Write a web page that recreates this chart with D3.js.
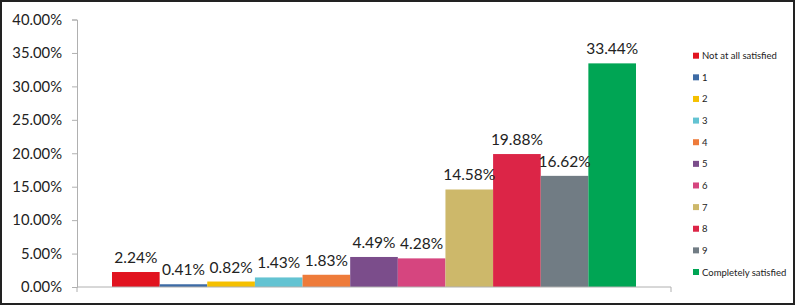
<!DOCTYPE html>
<html>
<head>
<meta charset="utf-8">
<script src="https://cdn.jsdelivr.net/npm/d3@7"></script>
<style>
  html, body { margin: 0; padding: 0; background: #fff; }
  svg { display: block; font-family: Lato, "Open Sans", sans-serif; }
</style>
</head>
<body>
<svg id="chart" width="796" height="306"></svg>
<script>
const categories = ["Not at all satisfied", "1", "2", "3", "4", "5", "6", "7", "8", "9", "Completely satisfied"];
const values = [2.24, 0.41, 0.82, 1.43, 1.83, 4.49, 4.28, 14.58, 19.88, 16.62, 33.44];
const colors = ["#e1131f", "#3d6ba5", "#f5c000", "#63c3d2", "#ee7b3a", "#7b4d8b", "#d6457f", "#cdb86a", "#dc2547", "#717c84", "#00a554"];
const yTicks = [0, 5, 10, 15, 20, 25, 30, 35, 40];

const svg = d3.select("#chart");
const width = 796;
const height = 306;

// outer frame
svg.append("rect")
  .attr("x", 1).attr("y", 1)
  .attr("width", width - 3).attr("height", height - 3)
  .attr("fill", "#fff")
  .attr("stroke", "#222")
  .attr("stroke-width", 2);

const plot = { left: 77, right: 671, top: 19.5, bottom: 287 };

const y = d3.scaleLinear().domain([0, 40]).range([plot.bottom, plot.top]);

// the chart is one category with eleven series, so the bars sit side by side
const x = d3.scaleBand()
  .domain(categories)
  .range([112, 636])
  .padding(0);

// y axis
const yAxis = svg.append("g")
  .attr("transform", `translate(${plot.left},0)`)
  .call(d3.axisLeft(y).tickValues(yTicks).tickSize(5).tickFormat((d) => d.toFixed(2) + "%"));
yAxis.select(".domain").attr("stroke", "#b0b0b0");
yAxis.selectAll(".tick line").attr("stroke", "#b0b0b0");
yAxis.selectAll(".tick text")
  .attr("x", -15)
  .attr("fill", "#222")
  .attr("font-size", 14.8)
  .attr("font-family", "Lato, sans-serif");

// bars
svg.append("g")
  .selectAll("rect")
  .data(values)
  .join("rect")
  .attr("x", (d, i) => x(categories[i]))
  .attr("y", (d) => y(d))
  .attr("width", x.bandwidth())
  .attr("height", (d) => plot.bottom - y(d))
  .attr("fill", (d, i) => colors[i]);

// x axis line with end ticks
svg.append("path")
  .attr("d", `M${plot.left},${plot.bottom + 5}V${plot.bottom}H${plot.right}V${plot.bottom + 5}`)
  .attr("fill", "none")
  .attr("stroke", "#b0b0b0")
  .attr("stroke-width", 1);

// value labels
svg.append("g")
  .selectAll("text")
  .data(values)
  .join("text")
  .attr("x", (d, i) => x(categories[i]) + x.bandwidth() / 2)
  .attr("y", (d) => y(d) - 9)
  .attr("text-anchor", "middle")
  .attr("font-size", 15.5)
  .attr("fill", "#222")
  .text((d) => d.toFixed(2) + "%");

// legend
const legend = svg.append("g").attr("transform", "translate(693,0)");
const ly = d3.scalePoint().domain(categories).range([55.7, 272]);
legend.selectAll("rect")
  .data(categories)
  .join("rect")
  .attr("x", 0)
  .attr("y", (d) => ly(d) - 3)
  .attr("width", 6)
  .attr("height", 6)
  .attr("fill", (d, i) => colors[i]);
legend.selectAll("text")
  .data(categories)
  .join("text")
  .attr("x", 9)
  .attr("y", (d) => ly(d) + 3.5)
  .attr("font-size", 9.5)
  .attr("fill", "#222")
  .text((d) => d);
</script>
</body>
</html>
